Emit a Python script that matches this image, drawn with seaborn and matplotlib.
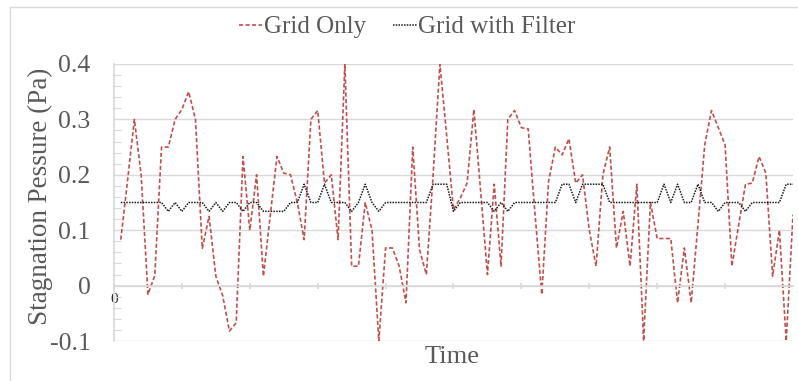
#!/usr/bin/env python3

from matplotlib import pyplot as plt
from matplotlib.patches import Rectangle
from matplotlib.ticker import MultipleLocator
import numpy as np
import pandas as pd
import seaborn as sns

# time steps 1..100
steps = list(range(1, 101))

grid_only = [
    0.083, 0.19, 0.30, 0.20, -0.016, 0.018, 0.25, 0.25, 0.30, 0.318,
    0.35, 0.30, 0.067, 0.125, 0.017, -0.018, -0.082, -0.067, 0.233, 0.10,
    0.20, 0.017, 0.125, 0.233, 0.203, 0.20, 0.15, 0.083, 0.30, 0.316,
    0.185, 0.20, 0.083, 0.40, 0.035, 0.035, 0.15, 0.10, -0.10, 0.068,
    0.068, 0.035, -0.031, 0.25, 0.065, 0.02, 0.20, 0.40, 0.27, 0.137,
    0.158, 0.185, 0.318, 0.17, 0.02, 0.183, 0.035, 0.30, 0.316, 0.285,
    0.283, 0.13, -0.016, 0.188, 0.25, 0.236, 0.265, 0.185, 0.20, 0.10,
    0.035, 0.20, 0.25, 0.068, 0.134, 0.035, 0.183, -0.10, 0.15, 0.085,
    0.085, 0.085, -0.031, 0.068, -0.031, 0.11, 0.254, 0.316, 0.285, 0.254,
    0.035, 0.11, 0.183, 0.185, 0.233, 0.203, 0.017, 0.10, -0.10, 0.128,
]

B, D, U = 0.15, 0.134, 0.183
grid_filter = [
    B, B, B, B, B, B, B, D, B, D,
    B, B, B, D, B, D, B, B, D, B,
    B, D, D, D, D, B, B, U, B, B,
    U, B, B, B, D, B, U, B, D, B,
    B, B, B, B, B, B, U, U, U, D,
    B, B, B, B, B, D, B, D, B, B,
    B, B, B, B, B, U, U, B, U, U,
    U, U, B, B, B, B, B, B, B, B,
    U, B, U, B, B, U, B, B, D, B,
    B, B, D, B, B, B, B, B, U, U,
]

yticks = [-0.1, 0, 0.1, 0.2, 0.3, 0.4]
ytick_labels = ["-0.1", "0", "0.1", "0.2", "0.3", "0.4"]


def main():
    sns.set_theme(style="white")
    plt.rcParams["font.family"] = ["Liberation Serif", "DejaVu Serif"]

    df = pd.DataFrame({"step": steps, "only": grid_only, "filt": grid_filter})

    fig = plt.figure(figsize=(7.98, 3.81), dpi=100)
    ax = fig.add_axes([114 / 798, 1 - 341 / 381, (793 - 114) / 798, (341 - 64) / 381])

    sns.lineplot(data=df, x="step", y="only", ax=ax, color="#c0504d",
                 linewidth=1.2, linestyle=(0, (2.5, 1.4)), label="Grid Only")
    sns.lineplot(data=df, x="step", y="filt", ax=ax, color="#1a1a1a",
                 linewidth=1.1, linestyle=(0, (1, 0.8)), label="Grid with Filter")

    gray = "#d9d9d9"
    txt = "#595959"

    ax.set_xlim(0, 100)
    ax.set_ylim(-0.1, 0.4)
    ax.set_yticks(yticks)
    ax.set_yticklabels(ytick_labels, fontsize=18.5, color=txt)
    ax.yaxis.set_minor_locator(MultipleLocator(0.02))
    ax.yaxis.grid(True, color=gray, linewidth=1)
    ax.tick_params(axis="y", which="major", direction="out", length=8,
                   color=gray, pad=9)
    ax.tick_params(axis="y", which="minor", left=True, direction="in",
                   length=5, color=gray, width=0.8)

    ax.set_xticks(range(0, 100, 10))
    ax.set_xticklabels(["0"] + [""] * 9, fontsize=5, color=txt)
    ax.tick_params(axis="x", which="major", bottom=True, direction="inout",
                   length=4, color=gray, pad=3)

    for s in ["top", "right"]:
        ax.spines[s].set_visible(False)
    ax.spines["left"].set_color(gray)
    ax.spines["bottom"].set_color(gray)
    ax.spines["bottom"].set_position(("data", 0))

    ax.set_xlabel("")
    ax.set_ylabel("")
    fig.text(452 / 798, 1 - 357 / 381, "Time", ha="center", va="center",
             fontsize=19, color=txt)
    fig.text(40 / 798, 1 - 196 / 381, "Stagnation Pessure (Pa)", ha="center",
             va="center", rotation=90, fontsize=19.5, color=txt)

    ax.legend(loc="center", bbox_to_anchor=(407 / 798, 1 - 27 / 381),
              bbox_transform=fig.transFigure, ncol=2, frameon=False,
              fontsize=18, handlelength=0.95, handletextpad=0.05,
              columnspacing=1.1, labelcolor=txt)

    fig.patches.append(Rectangle((10 / 798, -0.05), 1.0, 1.05 - 7 / 381,
                                 transform=fig.transFigure, fill=False,
                                 edgecolor=gray, linewidth=1))

    fig.savefig("out.png", dpi=100)


if __name__ == "__main__":
    main()
